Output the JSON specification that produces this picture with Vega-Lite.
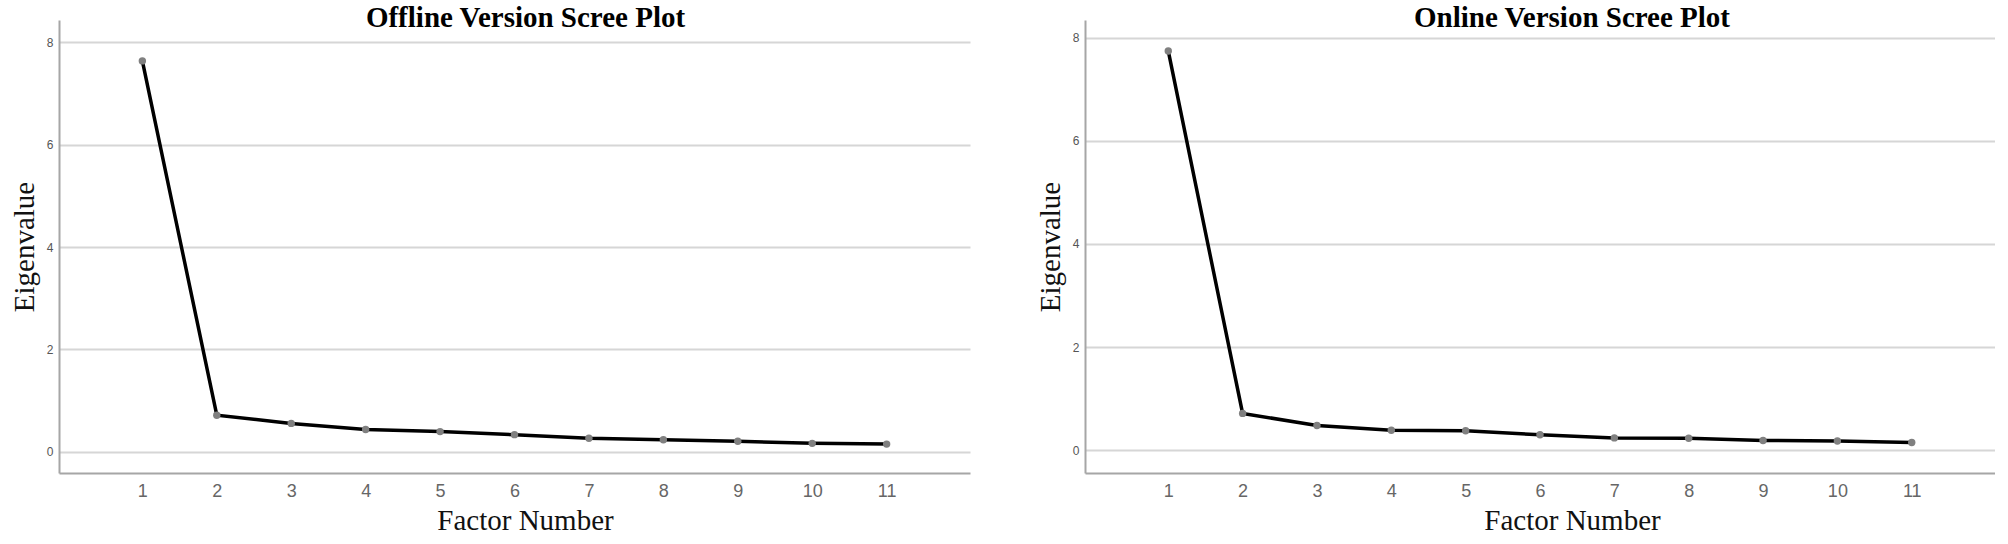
{
  "$schema": "https://vega.github.io/schema/vega-lite/v6.json",
  "background": "white",
  "padding": {"left": 10, "top": 4, "right": 0, "bottom": 0},
  "spacing": 66,
  "datasets": {
    "offline": [
      {"factor": 1, "eigenvalue": 7.64},
      {"factor": 2, "eigenvalue": 0.71},
      {"factor": 3, "eigenvalue": 0.55},
      {"factor": 4, "eigenvalue": 0.43},
      {"factor": 5, "eigenvalue": 0.39},
      {"factor": 6, "eigenvalue": 0.33},
      {"factor": 7, "eigenvalue": 0.26},
      {"factor": 8, "eigenvalue": 0.23},
      {"factor": 9, "eigenvalue": 0.2},
      {"factor": 10, "eigenvalue": 0.16},
      {"factor": 11, "eigenvalue": 0.145}
    ],
    "online": [
      {"factor": 1, "eigenvalue": 7.74},
      {"factor": 2, "eigenvalue": 0.715},
      {"factor": 3, "eigenvalue": 0.48},
      {"factor": 4, "eigenvalue": 0.39},
      {"factor": 5, "eigenvalue": 0.38},
      {"factor": 6, "eigenvalue": 0.3},
      {"factor": 7, "eigenvalue": 0.24},
      {"factor": 8, "eigenvalue": 0.235},
      {"factor": 9, "eigenvalue": 0.19},
      {"factor": 10, "eigenvalue": 0.18},
      {"factor": 11, "eigenvalue": 0.15}
    ]
  },
  "config": {
    "view": {"stroke": null},
    "title": {"font": "Liberation Serif", "fontSize": 29, "fontWeight": "bold", "color": "#000000", "anchor": "middle", "baseline": "alphabetic", "offset": -13},
    "axis": {
      "domainColor": "#a6a6a6",
      "domainWidth": 2,
      "ticks": false,
      "labelFont": "Liberation Sans",
      "titleFont": "Liberation Serif",
      "titleFontSize": 29,
      "titleFontWeight": "normal",
      "titleColor": "#111111"
    },
    "axisX": {"grid": false, "labelFontSize": 18, "labelColor": "#666666", "labelPadding": 9, "titlePadding": 6},
    "axisY": {"grid": true, "gridColor": "#d6d6d6", "gridWidth": 2, "labelFontSize": 12, "labelColor": "#555555", "labelPadding": 6, "titlePadding": 7}
  },
  "hconcat": [
    {
      "data": {"name": "offline"},
      "width": 911,
      "height": 453,
      "title": {"text": "Offline Version Scree Plot", "dx": 11},
      "encoding": {
        "x": {"field": "factor", "type": "quantitative", "scale": {"domain": [-0.12, 12.12], "nice": false, "zero": false}, "axis": {"values": [1,2,3,4,5,6,7,8,9,10,11], "title": "Factor Number", "titleX": 466}},
        "y": {"field": "eigenvalue", "type": "quantitative", "scale": {"domain": [-0.42, 8.44], "nice": false, "zero": false}, "axis": {"values": [0,2,4,6,8], "title": "Eigenvalue"}}
      },
      "layer": [
        {"mark": {"type": "line", "color": "#000000", "strokeWidth": 3.5}},
        {"mark": {"type": "point", "filled": true, "color": "#808080", "size": 55, "opacity": 1}}
      ]
    },
    {
      "data": {"name": "online"},
      "width": 910,
      "height": 453,
      "title": {"text": "Online Version Scree Plot", "dx": 32},
      "encoding": {
        "x": {"field": "factor", "type": "quantitative", "scale": {"domain": [-0.12, 12.12], "nice": false, "zero": false}, "axis": {"values": [1,2,3,4,5,6,7,8,9,10,11], "title": "Factor Number", "titleX": 487}},
        "y": {"field": "eigenvalue", "type": "quantitative", "scale": {"domain": [-0.44, 8.34], "nice": false, "zero": false}, "axis": {"values": [0,2,4,6,8], "title": "Eigenvalue"}}
      },
      "layer": [
        {"mark": {"type": "line", "color": "#000000", "strokeWidth": 3.5}},
        {"mark": {"type": "point", "filled": true, "color": "#808080", "size": 55, "opacity": 1}}
      ]
    }
  ]
}
